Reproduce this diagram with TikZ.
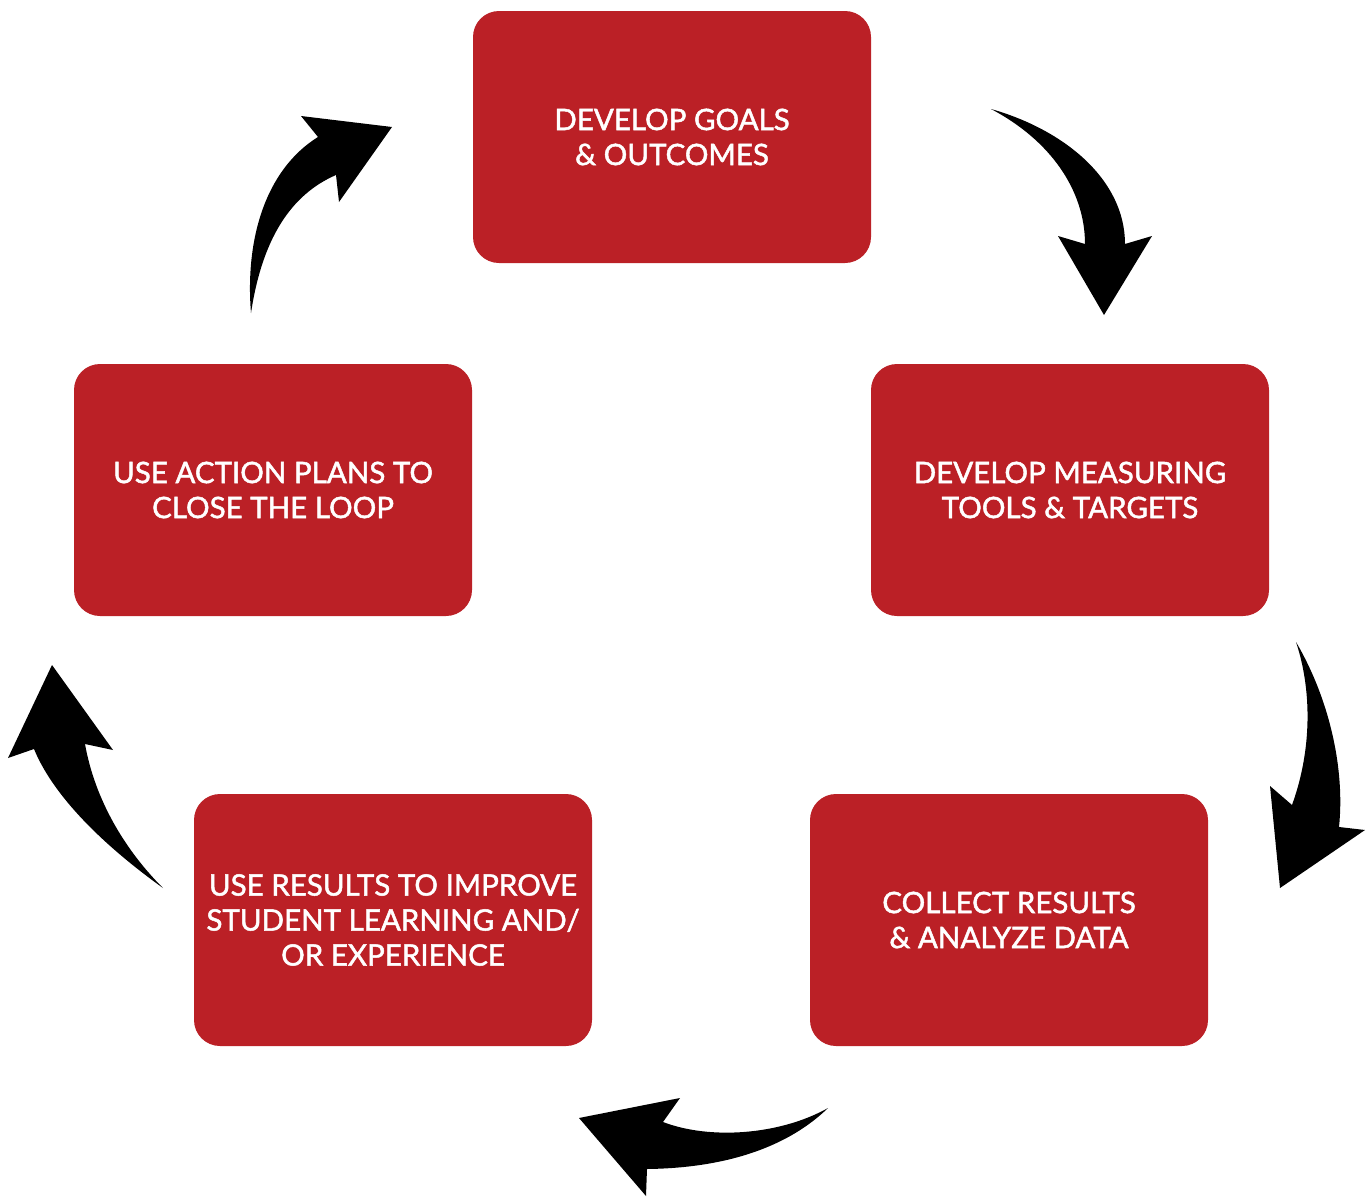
\documentclass[tikz,border=0pt]{standalone}
\usepackage{fontspec}
\setmainfont{Lato}[FakeBold=1.6]
\definecolor{boxred}{RGB}{187,32,38}
\begin{document}
\begin{tikzpicture}[x=1pt,y=-1pt,
  stepbox/.style={fill=boxred,rounded corners=26pt,minimum width=398pt,minimum height=252pt,
    inner sep=0pt,text=white,align=center,font=\fontsize{29.5}{35}\selectfont},
  curvarrow/.style={fill=black}]
\useasboundingbox (0,0) rectangle (1369,1197);
\node[stepbox] (goals) at (672,137) {DEVELOP GOALS\\\& OUTCOMES};
\node[stepbox] (tools) at (1070,490) {DEVELOP MEASURING\\TOOLS \& TARGETS};
\node[stepbox] (collect) at (1009,920) {COLLECT RESULTS\\\& ANALYZE DATA};
\node[stepbox] (improve) at (393,920) {USE RESULTS TO IMPROVE\\STUDENT LEARNING AND/\\OR EXPERIENCE};
\node[stepbox] (plans) at (273,490) {USE ACTION PLANS TO\\CLOSE THE LOOP};
% arrow top right
\fill[curvarrow] (991,109) .. controls (1065,130) and (1125,180) .. (1125,244)
  -- (1152,236) -- (1104,315) -- (1058,236) -- (1085,244)
  .. controls (1085,190) and (1050,140) .. (991,109) -- cycle;
% arrow right
\fill[curvarrow] (1296,642) .. controls (1330,700) and (1345,770) .. (1339,827)
  -- (1365,830) -- (1280,888) -- (1270,786) -- (1292,805)
  .. controls (1312,750) and (1312,690) .. (1296,642) -- cycle;
% arrow bottom
\fill[curvarrow] (828,1108) .. controls (780,1135) and (710,1140) .. (663,1122)
  -- (680,1098) -- (579,1118) -- (646,1196) -- (647,1169)
  .. controls (730,1168) and (790,1145) .. (828,1108) -- cycle;
% arrow left
\fill[curvarrow] (163,888) .. controls (110,850) and (55,800) .. (34,749)
  -- (8,758) -- (52,665) -- (113,750) -- (85,744)
  .. controls (95,800) and (125,850) .. (163,888) -- cycle;
% arrow top left
\fill[curvarrow] (251,313) .. controls (245,240) and (265,170) .. (318,137)
  -- (301,116) -- (392,127) -- (339,202) -- (336,175)
  .. controls (290,195) and (262,240) .. (251,313) -- cycle;
\end{tikzpicture}
\end{document}
